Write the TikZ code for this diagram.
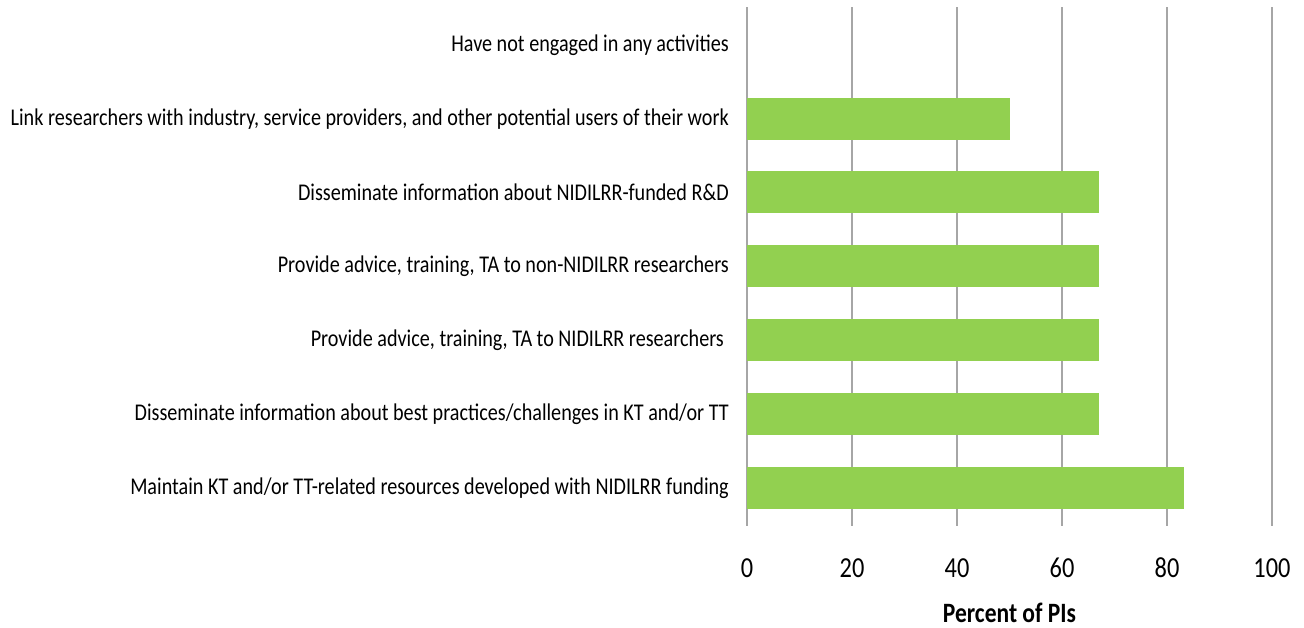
\documentclass[tikz,border=0pt]{standalone}
\usepackage{fontspec}
\setmainfont[FakeStretch=0.84]{Carlito}
\definecolor{barGreen}{HTML}{92D050}
\definecolor{gridGray}{HTML}{A6A6A6}

\begin{document}
\begin{tikzpicture}[x=1pt, y=1pt,
    bar/.style={fill=barGreen, draw=none},
    grid line/.style={draw=gridGray, line width=1.3pt},
    cat/.style={anchor=east, inner sep=0pt, font=\fontsize{24}{24}\selectfont},
    tick/.style={inner sep=0pt, font=\fontsize{29}{29}\selectfont}]

    % 1. Page size as in the reference
    \useasboundingbox (0,0) rectangle (1304,628);

    % 2. Plot area: 0 at x=747, 5.25pt per percent
    \begin{scope}[xshift=747pt, x=5.25pt]
        \foreach \v in {0,20,...,100} {
            \draw[grid line] (\v,102) -- (\v,621);
            \node[tick] (t\v) at (\v,60) {\v};
        }

        % 3. Bars (row centre, value)
        \foreach \yc/\val/\n in {140/83.3/a, 214/67/b, 288/67/c, 362/67/d, 436/67/e, 509/50/f} {
            \fill[bar] (0,\yc-21) rectangle (\val,\yc+21);
            \coordinate (bar\n) at (0,\yc);
        }

        % 4. Axis title
        \node[inner sep=0pt, font=\bfseries\fontsize{28}{28}\selectfont] (xtitle) at (50,15) {Percent of PIs};
    \end{scope}

    % 5. Category labels
    \node[cat] (la) at (729,140) {Maintain KT and/or TT-related resources developed with NIDILRR funding};
    \node[cat] (lb) at (729,214) {Disseminate information about best practices/challenges in KT and/or TT};
    \node[cat] (lc) at (724,288) {Provide advice, training, TA to NIDILRR researchers};
    \node[cat] (ld) at (729,362) {Provide advice, training, TA to non-NIDILRR researchers};
    \node[cat] (le) at (729,436) {Disseminate information about NIDILRR-funded R\&D};
    \node[cat] (lf) at (729,509) {Link researchers with industry, service providers, and other potential users of their work};
    \node[cat] (lg) at (729,583) {Have not engaged in any activities};

\end{tikzpicture}
\end{document}
